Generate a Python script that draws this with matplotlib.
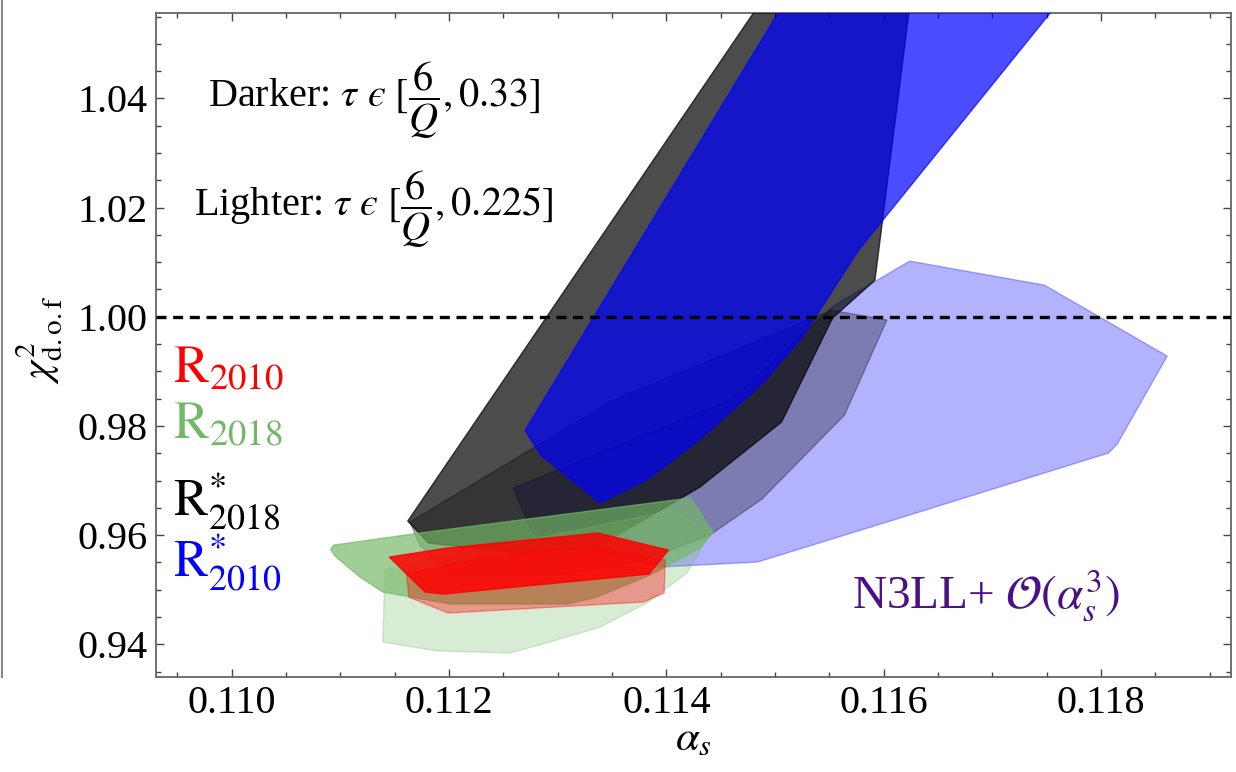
import matplotlib
matplotlib.use("Agg")
import matplotlib.pyplot as plt
from matplotlib.patches import Polygon
from matplotlib.lines import Line2D
from matplotlib.ticker import MultipleLocator, FormatStrFormatter

plt.rcParams['font.family'] = ['Liberation Serif', 'DejaVu Serif']
plt.rcParams['mathtext.fontset'] = 'stix'

# regions in (alpha_s, chi2/dof); "dark" = tau in [6/Q, 0.33], "light" = tau in [6/Q, 0.225]
rs2018_dark_as = [0.11495, 0.11162, 0.11181, 0.11266, 0.11339, 0.11431, 0.11506, 0.11553, 0.11592, 0.11626]
rs2018_dark_chi = [1.060, 0.96258, 0.95855, 0.95672, 0.95818, 0.96881, 0.98071, 0.99976, 1.0067, 1.060]

rs2018_light_as = [0.11164, 0.11351, 0.11552, 0.11603, 0.11564, 0.11488, 0.11440, 0.11376, 0.11302, 0.11201, 0.11173]
rs2018_light_chi = [0.9624, 0.98474, 1.0012, 0.9994, 0.9820, 0.9666, 0.9600, 0.9551, 0.9527, 0.9527, 0.9582]

rs2010_dark_as = [0.11516, 0.11270, 0.11284, 0.11339, 0.11385, 0.11431, 0.11488, 0.11526, 0.11577, 0.11771]
rs2010_dark_chi = [1.060, 0.9792, 0.9747, 0.9659, 0.9705, 0.9776, 0.9877, 0.9965, 1.0122, 1.060]

rs2010_light_as = [0.11259, 0.11459, 0.11555, 0.11624, 0.11748, 0.11861, 0.11815, 0.11807, 0.11621, 0.11484, 0.11394, 0.11277]
rs2010_light_chi = [0.9686, 0.98474, 1.00214, 1.0102, 1.0058, 0.9928, 0.97668, 0.97504, 0.9635, 0.95507, 0.95415, 0.96038]

r2018_dark_as = [0.11091, 0.11094, 0.11173, 0.11422, 0.11443, 0.11431, 0.11385, 0.11336, 0.11309, 0.11201, 0.11139, 0.11118, 0.11095]
r2018_dark_chi = [0.95745, 0.95818, 0.96038, 0.9668, 0.96057, 0.95763, 0.95269, 0.94866, 0.94738, 0.94738, 0.94958, 0.95232, 0.95617]

r2018_light_as = [0.11141, 0.11406, 0.11440, 0.11419, 0.11382, 0.11339, 0.11293, 0.11256, 0.11189, 0.11139]
r2018_light_chi = [0.95361, 0.9646, 0.96038, 0.95305, 0.94756, 0.94317, 0.94042, 0.93841, 0.93878, 0.94042]

r2010_dark_as = [0.11145, 0.11198, 0.11337, 0.11402, 0.11384, 0.11195, 0.11178]
r2010_dark_chi = [0.95598, 0.95763, 0.96038, 0.95727, 0.95287, 0.94921, 0.94958]

r2010_light_as = [0.11161, 0.11229, 0.11333, 0.11399, 0.11398, 0.11379, 0.11199, 0.11163]
r2010_light_chi = [0.95287, 0.9558, 0.958, 0.95544, 0.9494, 0.94775, 0.94573, 0.94866]

green = (0.45, 0.72, 0.40)

fig = plt.figure(figsize=(12.36, 7.72), dpi=100)
ax = fig.add_axes([156/1236, 95.3/772, 1075/1236, 664/772])

def region(xs, ys, color, alpha, z):
    ax.add_patch(Polygon(list(zip(xs, ys)), closed=True, facecolor=color, alpha=alpha,
                         edgecolor=color, lw=1.0, zorder=z))

region(rs2010_light_as, rs2010_light_chi, 'blue', 0.3, 1)
region(rs2018_light_as, rs2018_light_chi, 'black', 0.3, 2)
region(rs2018_dark_as, rs2018_dark_chi, 'black', 0.7, 3)
region(rs2010_dark_as, rs2010_dark_chi, 'blue', 0.7, 4)
region(r2018_light_as, r2018_light_chi, green, 0.28, 5)
region(r2018_dark_as, r2018_dark_chi, green, 0.68, 6)
region(r2010_light_as, r2010_light_chi, 'red', 0.35, 7)
region(r2010_dark_as, r2010_dark_chi, 'red', 0.85, 8)

ax.axhline(1.0, color='black', ls=(0, (3, 2)), lw=2.4, zorder=10)

ax.set_xlim(0.109303, 0.119197)
ax.set_ylim(0.93407, 1.0557)
ax.xaxis.set_major_locator(MultipleLocator(0.002))
ax.xaxis.set_minor_locator(MultipleLocator(0.0005))
ax.yaxis.set_major_locator(MultipleLocator(0.02))
ax.yaxis.set_minor_locator(MultipleLocator(0.005))
ax.xaxis.set_major_formatter(FormatStrFormatter('%.3f'))
ax.yaxis.set_major_formatter(FormatStrFormatter('%.2f'))
ax.tick_params(which='both', direction='in', top=True, right=True, color='#444444', width=1.0)
ax.tick_params(which='major', length=6, labelsize=29, pad=6)
ax.tick_params(which='minor', length=3.6)
for s in ax.spines.values():
    s.set_color('#666666')
    s.set_linewidth(1.3)

ax.text(0.11131, 1.0397, r'Darker: $\tau\ ϵ\ [\dfrac{6}{Q},0.33]$', fontsize=29,
        ha='center', va='center')
ax.text(0.11131, 1.0197, r'Lighter: $\tau\ ϵ\ [\dfrac{6}{Q},0.225]$', fontsize=29,
        ha='center', va='center')

ax.text(0.10946, 0.98803, r'$\mathrm{R}_{2010}$', color='red', fontsize=38, va='baseline')
ax.text(0.10946, 0.97775, r'$\mathrm{R}_{2018}$', color=green, fontsize=38, va='baseline')
ax.text(0.10946, 0.96350, r'$\mathrm{R}^{*}_{2018}$', color='black', fontsize=37, va='baseline')
ax.text(0.10946, 0.95230, r'$\mathrm{R}^{*}_{2010}$', color='blue', fontsize=37, va='baseline')

ax.text(0.116937, 0.94665, r'N3LL+ $\mathcal{O}(\alpha_s^3)$', color='#4b0f87', fontsize=34,
        ha='center', va='baseline')

fig.text(40/1236, 1 - 340/772, r'$\chi^2_{\mathrm{d.o.f}}$', fontsize=30, rotation=90,
         ha='center', va='center')
fig.text(693/1236, 1 - 740/772, r'$\alpha_s$', fontsize=31, ha='center', va='center')

fig.add_artist(Line2D([0.0015, 0.0015], [95/772, 1], color='#888888', lw=1.5,
                      transform=fig.transFigure))

fig.savefig('out.png', dpi=100)
